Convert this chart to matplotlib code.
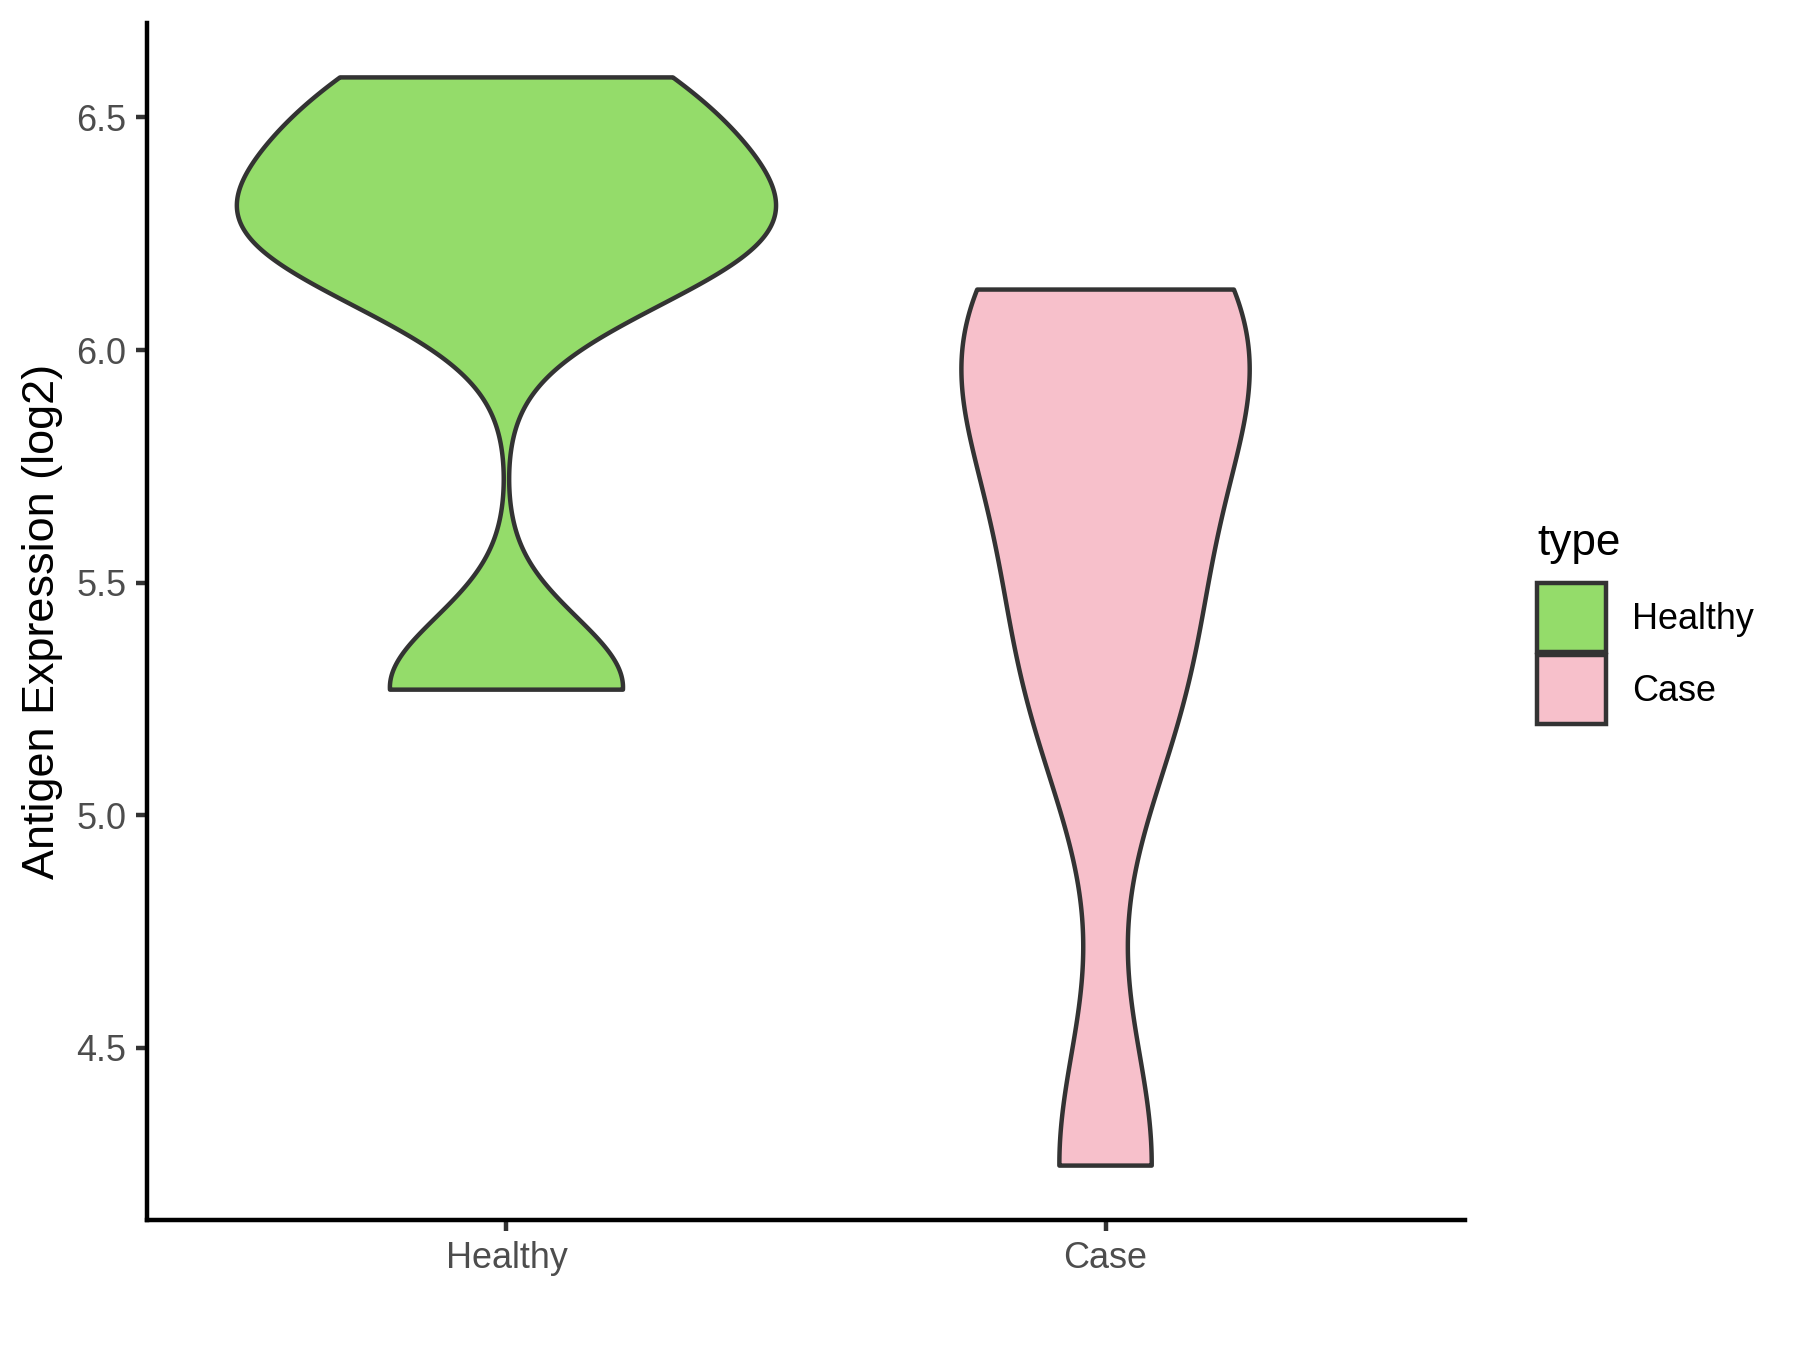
import numpy as np
import matplotlib
matplotlib.use("Agg")
import matplotlib.pyplot as plt
from matplotlib.patches import Patch

plt.rcParams['font.family'] = ['Liberation Sans', 'DejaVu Sans']

# data (log2 antigen expression per sample)
groups = ["Healthy", "Case"]
healthy_vals = [5.27, 5.28, 6.15, 6.22, 6.27, 6.31, 6.42, 6.54, 6.586]
case_vals = [4.247, 5.22, 5.53, 5.90, 6.04, 6.13]
bandwidths = [0.15, 0.285]
fill_colors = ["#94DC6A", "#F7C0CB"]
yticks = [4.5, 5.0, 5.5, 6.0, 6.5]


def kde(values, bw, grid):
    values = np.asarray(values)
    z = (grid[:, None] - values[None, :]) / bw
    return np.exp(-0.5 * z ** 2).sum(axis=1) / (len(values) * bw * np.sqrt(2 * np.pi))


series = [healthy_vals, case_vals]
grids, dens = [], []
for vals, bw in zip(series, bandwidths):
    g = np.linspace(min(vals), max(vals), 512)
    grids.append(g)
    dens.append(kde(vals, bw, g))
dmax = max(d.max() for d in dens)

fig = plt.figure(figsize=(6, 4.5), dpi=300)
ax = fig.add_axes([147 / 1800, 130 / 1350, (1465 - 147) / 1800, (1220 - 23) / 1350])

for i, (g, d, col) in enumerate(zip(grids, dens, fill_colors)):
    w = d / dmax * 0.45
    xs = np.concatenate([i - w, (i + w)[::-1]])
    ys = np.concatenate([g, g[::-1]])
    ax.fill(xs, ys, facecolor=col, edgecolor="#333333", linewidth=1.07,
            joinstyle="round", zorder=2)

lo = min(min(v) for v in series)
hi = max(max(v) for v in series)
rng = hi - lo
ax.set_ylim(lo - 0.05 * rng, hi + 0.05 * rng)
ax.set_xlim(-0.6, len(groups) - 1 + 0.6)

ax.set_xticks(range(len(groups)))
ax.set_xticklabels(groups)
ax.set_yticks(yticks)
ax.set_yticklabels([f"{t:.1f}" for t in yticks])

for s in ["top", "right"]:
    ax.spines[s].set_visible(False)
for s in ["left", "bottom"]:
    ax.spines[s].set_color("black")
    ax.spines[s].set_linewidth(1.07)
ax.tick_params(axis="both", colors="#333333", width=1.07, length=2.75,
               pad=2.2, labelsize=8.65, labelcolor="#4D4D4D")

fig.text(43 / 1800, 1 - 621 / 1350, "Antigen Expression (log2)", rotation=90,
         ha="center", va="center", fontsize=10.8, color="black")

# legend
fig.text(1537 / 1800, 1 - 555 / 1350, "type", ha="left", va="baseline",
         fontsize=10.6, color="black")
handles = [Patch(facecolor=c, edgecolor="#333333", linewidth=1.07) for c in fill_colors]
fig.legend(handles, groups, loc="upper left", bbox_to_anchor=(1537 / 1800, 1 - 583 / 1350),
           frameon=False, fontsize=8.65, borderpad=0, borderaxespad=0,
           handlelength=1.92, handleheight=2.576, labelspacing=0.083,
           handletextpad=0.72)

fig.savefig("out.png", dpi=300, facecolor="white")
